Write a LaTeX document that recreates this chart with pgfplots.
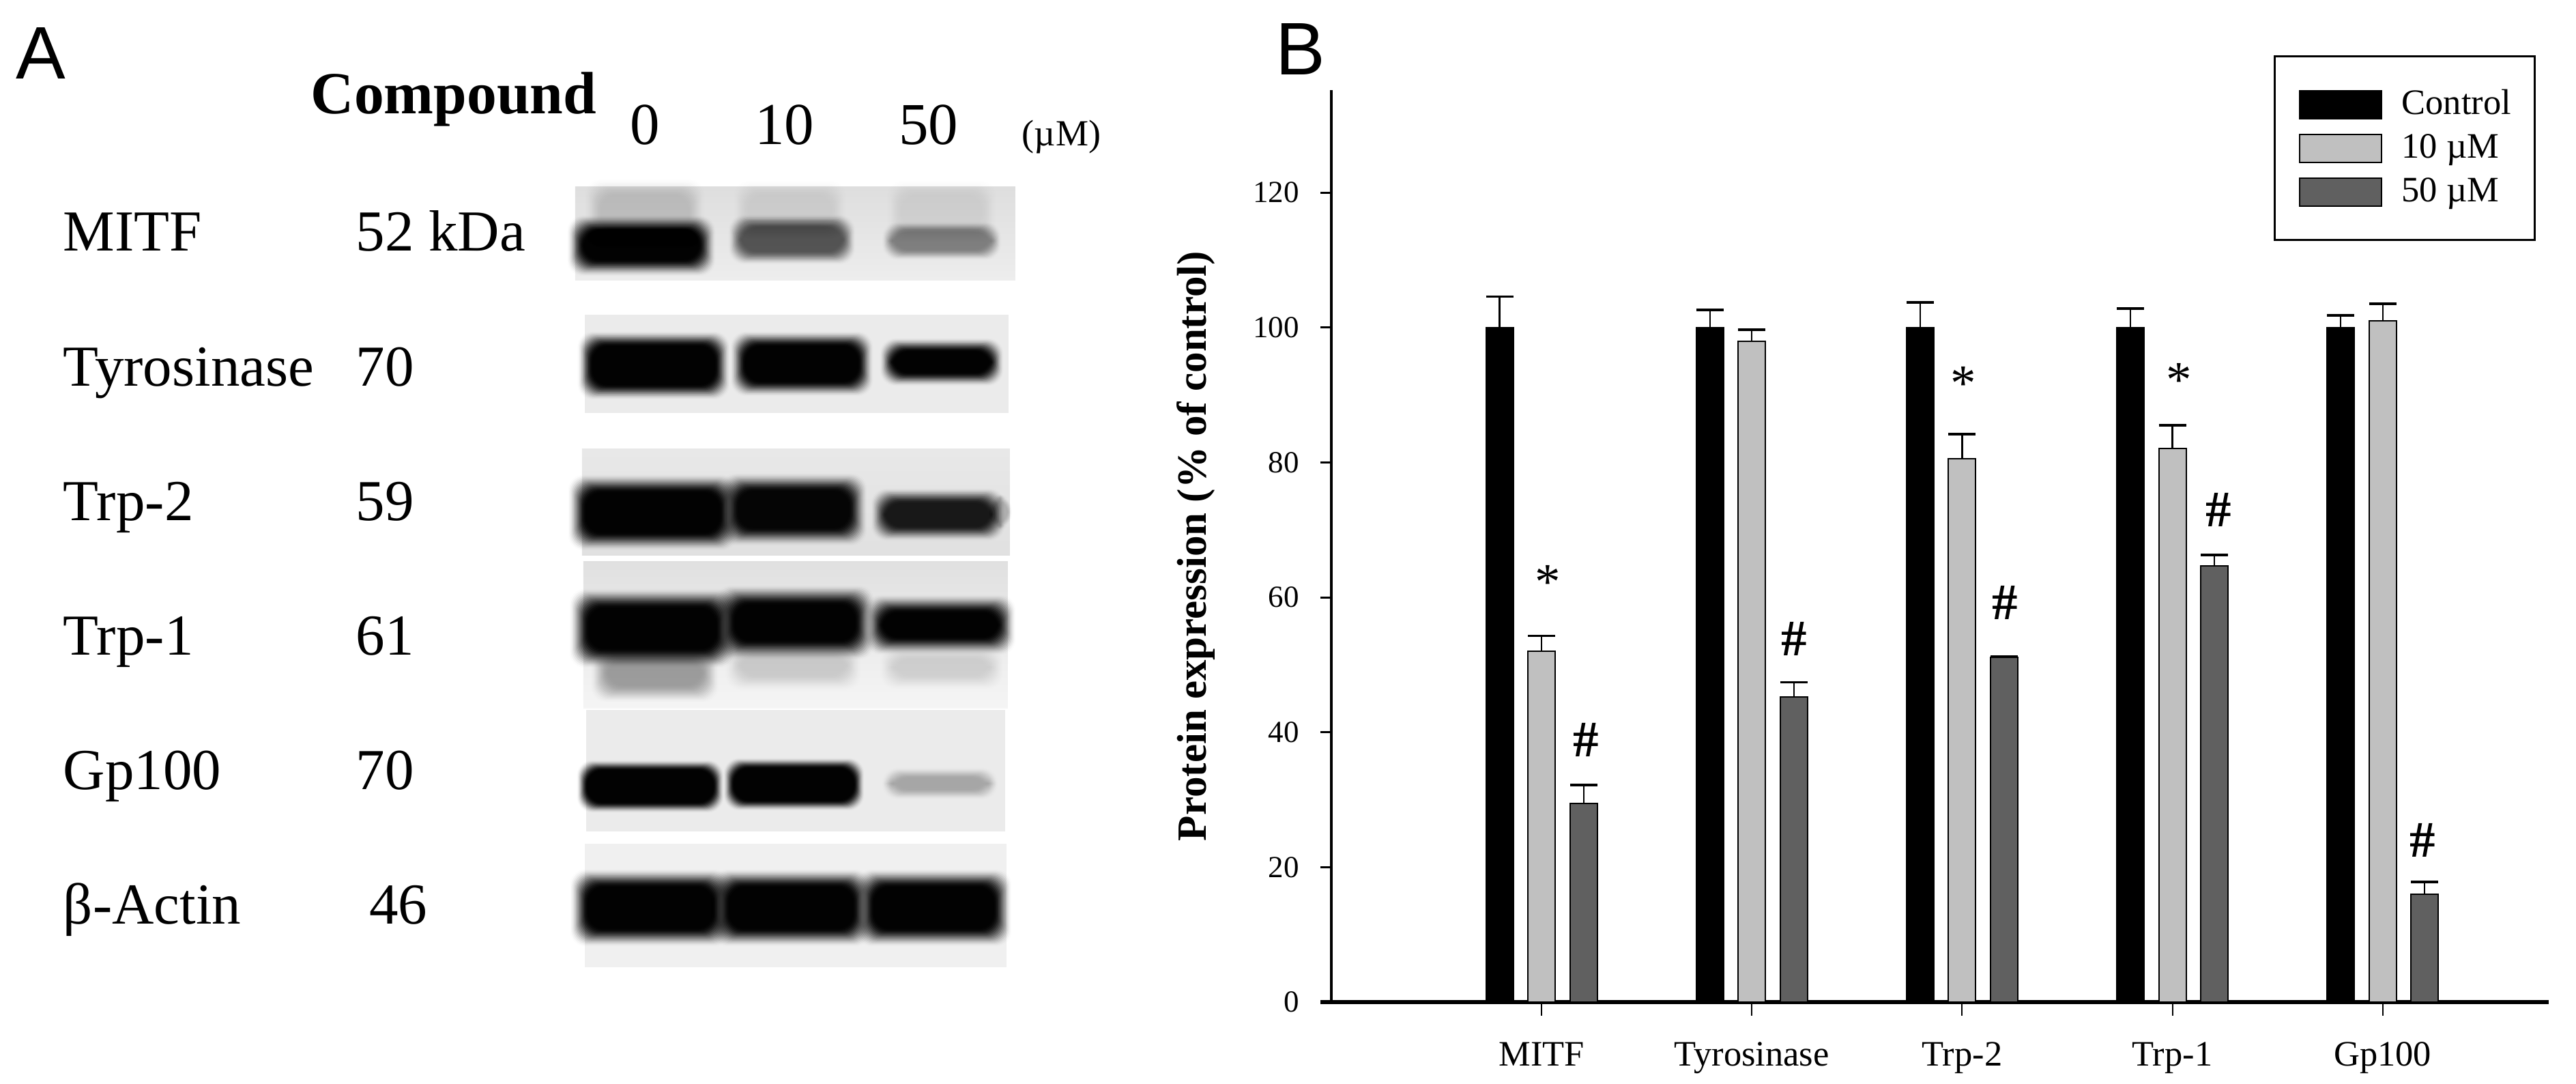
\documentclass[border=0pt]{standalone}
\usepackage{pgfplots}
\pgfplotsset{compat=1.18}
\usepackage{pgfplotstable}
\usepackage{fontspec}
\setmainfont{Liberation Serif}
\newfontfamily\panelfont{Liberation Sans}
\definecolor{midgray}{HTML}{C0C0C0}
\definecolor{darkgray}{HTML}{606060}

\pgfplotstableread{
x y e
-0.2 100 4.6
0.8 100 2.6
1.8 100 3.7
2.8 100 2.8
3.8 100 1.8
}\control
\pgfplotstableread{
x y e
0 52 2.3
1 98 1.7
2 80.5 3.7
3 82.1 3.4
4 101 2.5
}\tenuM
\pgfplotstableread{
x y e
0.2 29.4 2.8
1.2 45.2 2.2
2.2 51.1 0.1
3.2 64.7 1.6
4.2 16 1.8
}\fiftyuM

% blurred western-blot band: x0 y0 x1 y1 darkness blur (pixels of the reference)
\newcommand{\band}[6]{%
  \foreach \i in {1,...,16}{%
    \pgfmathsetmacro\tt{\i/16}%
    \pgfmathsetmacro\sA{((\i-1)/16)*((\i-1)/16)*(3-2*(\i-1)/16)}%
    \pgfmathsetmacro\sB{\tt*\tt*(3-2*\tt)}%
    \pgfmathsetmacro\bop{max(0.001,1-(1-#5*\sB)/(1-#5*\sA))}%
    \pgfmathsetmacro\dd{#6*(1.05-1.15*\tt)}%
    \fill[black,opacity=\bop,rounded corners=4.5pt]
      ({#1-\dd},{#2-\dd}) rectangle ({#3+\dd},{#4+\dd});
  }%
}
\newcommand{\lab}[3]{\node[anchor=base west,inner sep=0pt,font=\fontsize{17}{17}\selectfont] at (#1,#2) {#3};}
\newcommand{\clab}[3]{\node[anchor=base,inner sep=0pt,font=\fontsize{17.4}{17.4}\selectfont] at (#1,#2) {#3};}

\begin{document}
\begin{tikzpicture}
\path[use as bounding box] (0,0) rectangle (755pt,317.6pt);

\begin{scope}[x=0.2pt,y=-0.2pt,yshift=317.6pt]
  % panel letters
  \node[anchor=base west,inner sep=0pt,font=\panelfont\fontsize{21.8}{21.8}\selectfont] at (22,116) {A};
  \node[anchor=base west,inner sep=0pt,font=\panelfont\fontsize{21.8}{21.8}\selectfont] at (1869,110) {B};
  % header
  \node[anchor=base west,inner sep=0pt,font=\bfseries\fontsize{17.5}{17.5}\selectfont] at (455,167) {Compound};
  \clab{945}{212}{0}
  \clab{1150}{212}{10}
  \clab{1361}{212}{50}
  \node[anchor=base west,inner sep=0pt,font=\fontsize{10.8}{10.8}\selectfont] at (1497,214) {(µM)};
  % row labels
  \lab{92}{368}{MITF}       \lab{521}{368}{52 kDa}
  \lab{92}{566}{Tyrosinase} \lab{521}{566}{70}
  \lab{92}{763}{Trp-2}      \lab{521}{763}{59}
  \lab{92}{960}{Trp-1}      \lab{521}{960}{61}
  \lab{92}{1157}{Gp100}     \lab{521}{1157}{70}
  \lab{92}{1354}{β-Actin}   \lab{540}{1354}{46}
  % blots
  \shade[top color=black!13,bottom color=black!7] (843,274) rectangle (1488,411);
  \band{853}{337}{1027}{383}{0.985}{22}
  \band{880}{285}{1010}{340}{0.14}{25}
  \band{1085}{332}{1236}{370}{0.62}{18}
  \band{1095}{285}{1220}{330}{0.08}{22}
  \band{1307}{339}{1453}{367}{0.42}{15}
  \band{1320}{285}{1440}{335}{0.07}{22}

  \fill[black!8] (857,461) rectangle (1478,605);
  \band{866}{505}{1050}{566}{0.985}{20}
  \band{1090}{505}{1260}{561}{0.985}{20}
  \band{1307}{513}{1453}{548}{0.985}{18}

  \shade[top color=black!9,bottom color=black!12] (853,658) rectangle (1480,814);
  \band{856}{719}{1057}{783}{0.985}{24}
  \band{1079}{717}{1247}{776}{0.97}{24}
  \band{1296}{735}{1453}{773}{0.88}{20}
  \band{1455}{730}{1477}{770}{0.2}{6}

  \shade[top color=black!12,bottom color=black!4] (855,823) rectangle (1477,1038);
  \band{889}{966}{1030}{1006}{0.33}{24}
  \band{1085}{960}{1240}{990}{0.14}{24}
  \band{1310}{965}{1450}{990}{0.12}{22}
  \band{860}{888}{1052}{953}{0.985}{26}
  \band{1074}{883}{1256}{941}{0.985}{26}
  \band{1291}{895}{1465}{936}{0.985}{24}

  \fill[black!8] (859,1040) rectangle (1473,1218);
  \band{859}{1127}{1047}{1177}{0.985}{14}
  \band{1074}{1124}{1253}{1174}{0.985}{14}
  \band{1307}{1139}{1448}{1157}{0.27}{15}

  \fill[black!6] (857,1236) rectangle (1475,1417);
  \band{859}{1297}{1047}{1363}{0.985}{24}
  \band{1066}{1297}{1253}{1363}{0.985}{24}
  \band{1278}{1297}{1459}{1363}{0.985}{24}
\end{scope}

\begin{axis}[
  at={(390.2pt,24pt)},anchor=south west,
  scale only axis,
  width=356.8pt,height=267.2pt,
  xmin=-1,xmax=4.79,ymin=0,ymax=135.2,
  axis y line*=left,axis x line*=bottom,
  axis line style={-},
  x axis line style={line width=1.1pt,shorten <=-3.2pt},
  y axis line style={line width=0.7pt},
  xtick={0,1,2,3,4},
  xticklabels={MITF,Tyrosinase,Trp-2,Trp-1,Gp100},
  ytick={0,20,40,60,80,100,120},
  tick align=outside,
  minor tick num=0,
  xtick style={line width=0.4pt,black,/pgfplots/major tick length=4pt},
  ytick style={line width=0.6pt,black,/pgfplots/major tick length=3.2pt},
  /pgf/number format/assume math mode=true,
  yticklabel style={font=\fontsize{9}{9}\selectfont,inner sep=0pt,xshift=-5pt},
  xticklabel style={font=\fontsize{10.5}{10.5}\selectfont,inner sep=0pt,anchor=base,yshift=-14.5pt},
  ylabel={\textbf{Protein expression (\% of control)}},
  ylabel style={font=\fontsize{12.2}{12.2}\selectfont,at={(axis description cs:-0.111,0.5)},anchor=center},
  legend cell align=left,
  legend style={at={(0.7741,1.038)},anchor=north west,draw=black,line width=0.6pt,
    font=\fontsize{10.5}{10.5}\selectfont,
    nodes={inner sep=0pt},row sep=4.2pt,inner xsep=7pt,inner ysep=9.7pt,
    /tikz/column 1/.style={column sep=5.8pt}},
  clip=false,
]
\addplot[ybar,bar width=8pt,bar shift=0pt,fill=black,draw=black,line width=0.4pt,
  legend image code/.code={\draw[fill=black,draw=black,line width=0.4pt] (0,-4.1pt) rectangle (24pt,4.1pt);},
  error bars/.cd,y dir=plus,y explicit,
  error bar style={line width=0.45pt},
  error mark options={rotate=90,mark size=4pt,line width=0.7pt}]
  table[x=x,y=y,y error=e]{\control};
\addlegendentry{Control}
\addplot[ybar,bar width=8pt,bar shift=0pt,fill=midgray,draw=black,line width=0.4pt,
  legend image code/.code={\draw[fill=midgray,draw=black,line width=0.4pt] (0,-4.1pt) rectangle (24pt,4.1pt);},
  error bars/.cd,y dir=plus,y explicit,
  error bar style={line width=0.45pt},
  error mark options={rotate=90,mark size=4pt,line width=0.7pt}]
  table[x=x,y=y,y error=e]{\tenuM};
\addlegendentry{10 µM}
\addplot[ybar,bar width=8pt,bar shift=0pt,fill=darkgray,draw=black,line width=0.4pt,
  legend image code/.code={\draw[fill=darkgray,draw=black,line width=0.4pt] (0,-4.1pt) rectangle (24pt,4.1pt);},
  error bars/.cd,y dir=plus,y explicit,
  error bar style={line width=0.45pt},
  error mark options={rotate=90,mark size=4pt,line width=0.7pt}]
  table[x=x,y=y,y error=e]{\fiftyuM};
\addlegendentry{50 µM}
\begin{scope}[every node/.style={font=\fontsize{15}{15}\selectfont,inner sep=0pt}]
\node[yshift=-1.6pt] at (axis cs:0.03,63) {*};
\node[yshift=-1.6pt] at (axis cs:2.007,92.5) {*};
\node[yshift=-1.6pt] at (axis cs:3.03,93) {*};
\node at (axis cs:0.21,38.9) {\textbf{\#}};
\node at (axis cs:1.2,53.8) {\textbf{\#}};
\node at (axis cs:2.205,59.2) {\textbf{\#}};
\node at (axis cs:3.22,73) {\textbf{\#}};
\node at (axis cs:4.19,24) {\textbf{\#}};
\end{scope}
\end{axis}
\end{tikzpicture}
\end{document}
